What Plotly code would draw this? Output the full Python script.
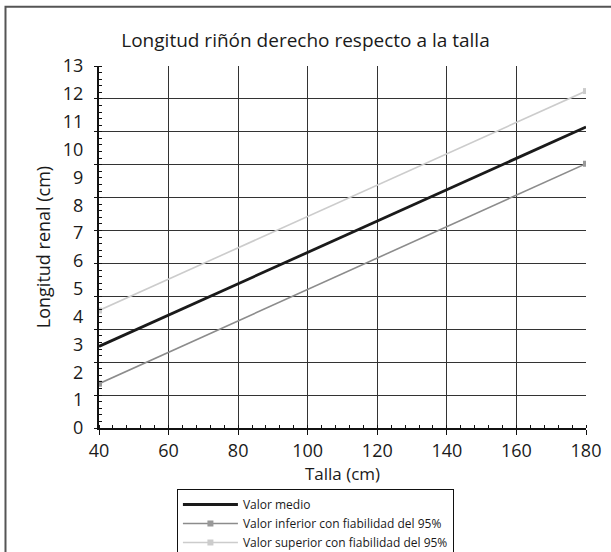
import plotly.graph_objects as go

# Data
talla = [40, 180]
valor_medio = [2.93, 10.81]
valor_inferior = [1.59, 9.49]
valor_superior = [4.22, 12.1]

names = ["Valor medio",
         "Valor inferior con fiabilidad del 95%",
         "Valor superior con fiabilidad del 95%"]

y_tick_vals = list(range(0, 14))
x_tick_vals = [40, 60, 80, 100, 120, 140, 160, 180]

FONT = "Open Sans"

fig = go.Figure()
fig.add_trace(go.Scatter(x=talla, y=valor_medio, mode="lines", name=names[0],
                         line=dict(color="#1a1a1a", width=2.8)))
fig.add_trace(go.Scatter(x=talla, y=valor_inferior, mode="lines+markers", name=names[1],
                         line=dict(color="#8c8c8c", width=1.6),
                         marker=dict(symbol="square", size=6, color="#999999")))
fig.add_trace(go.Scatter(x=talla, y=valor_superior, mode="lines+markers", name=names[2],
                         line=dict(color="#cccccc", width=1.6),
                         marker=dict(symbol="square", size=6, color="#cccccc")))

# invisible trace to activate the overlay grid axis
fig.add_trace(go.Scatter(x=talla, y=valor_medio, yaxis="y2", mode="lines",
                         line=dict(width=0), showlegend=False, hoverinfo="skip",
                         opacity=0))

fig.update_layout(
    width=611, height=552,
    paper_bgcolor="white", plot_bgcolor="white",
    margin=dict(l=99, r=25, t=66, b=124, autoexpand=False),
    font=dict(family=FONT, color="#1a1a1a"),
    title=dict(text="Longitud riñón derecho respecto a la talla",
               x=0.5, xanchor="center", y=1 - 40 / 552, yanchor="middle",
               font=dict(size=19, family=FONT, color="#1a1a1a")),
    xaxis=dict(range=[40, 180], tickvals=x_tick_vals,
               showgrid=True, gridcolor="#333333", gridwidth=1,
               showline=True, linecolor="#111111", linewidth=1.5,
               ticks="outside", ticklen=5, tickcolor="#111111", tickwidth=1.2,
               minor=dict(ticks="inside", dtick=4, ticklen=3, tickcolor="#111111", showgrid=False),
               tickfont=dict(size=18, family=FONT), ticklabelstandoff=1,
               zeroline=False, automargin=False,
               title=dict(text="Talla (cm)", font=dict(size=17, family=FONT), standoff=4)),
    yaxis=dict(range=[0, 13], tickvals=y_tick_vals, showgrid=False,
               showline=True, linecolor="#111111", linewidth=2,
               ticks="", ticklen=0, zeroline=False, automargin=False,
               tickfont=dict(size=18, family=FONT), ticklabelstandoff=10,
               title=dict(text="Longitud renal (cm)", font=dict(size=18, family=FONT), standoff=8)),
    yaxis2=dict(range=[0, 13], overlaying="y", side="left", dtick=13 / 11, tick0=0,
                showgrid=True, gridcolor="#333333", gridwidth=1,
                showticklabels=False, ticks="outside", ticklen=4, tickcolor="#111111",
                minor=dict(ticks="inside", dtick=13 / 55, ticklen=3, tickcolor="#111111", showgrid=False),
                zeroline=False, showline=False, automargin=False),
    legend=dict(x=0.16, xanchor="left", y=(428 - 489) / 362, yanchor="top",
                bordercolor="#111111", borderwidth=1, bgcolor="white",
                font=dict(size=12, family=FONT), itemwidth=55,
                tracegroupgap=0),
    showlegend=True,
    shapes=[dict(type="rect", xref="paper", yref="paper",
                 x0=-0.192, x1=1.07, y0=-0.4, y1=1.164,
                 line=dict(color="#555555", width=2), layer="below")],
)

fig.write_html("out.html", config={"displayModeBar": False},
               post_script="document.body.style.margin='0';document.body.style.padding='0';")
